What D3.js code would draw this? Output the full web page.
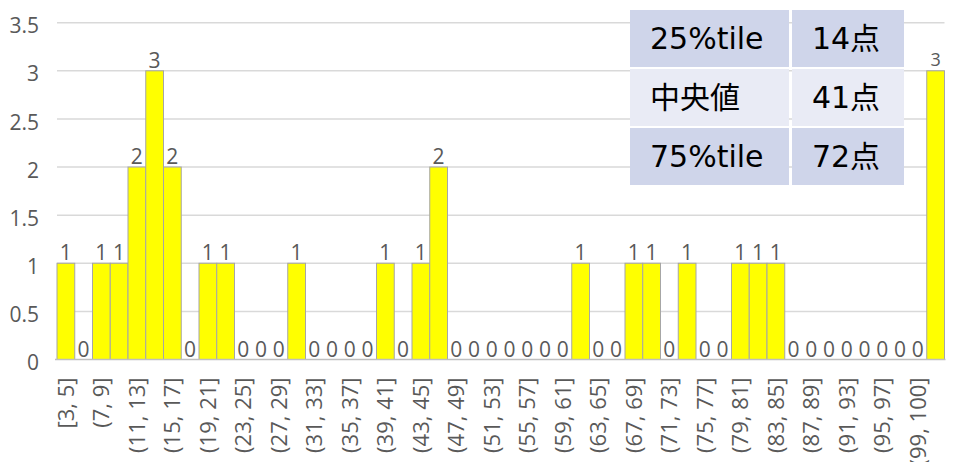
<!DOCTYPE html>
<html>
<head>
<meta charset="utf-8">
<script src="https://cdn.jsdelivr.net/npm/d3@7"></script>
<style>
  html, body { margin: 0; padding: 0; background: #fff; }
  svg { display: block; }
</style>
</head>
<body>
<svg id="chart" width="968" height="462"></svg>
<script>
// ---- data ----
const categories = [
  "[3, 5]", "(5, 7]", "(7, 9]", "(9, 11]", "(11, 13]", "(13, 15]", "(15, 17]", "(17, 19]",
  "(19, 21]", "(21, 23]", "(23, 25]", "(25, 27]", "(27, 29]", "(29, 31]", "(31, 33]", "(33, 35]",
  "(35, 37]", "(37, 39]", "(39, 41]", "(41, 43]", "(43, 45]", "(45, 47]", "(47, 49]", "(49, 51]",
  "(51, 53]", "(53, 55]", "(55, 57]", "(57, 59]", "(59, 61]", "(61, 63]", "(63, 65]", "(65, 67]",
  "(67, 69]", "(69, 71]", "(71, 73]", "(73, 75]", "(75, 77]", "(77, 79]", "(79, 81]", "(81, 83]",
  "(83, 85]", "(85, 87]", "(87, 89]", "(89, 91]", "(91, 93]", "(93, 95]", "(95, 97]", "(97, 99]",
  "(99, 100]", "> 100"
];
const counts = [
  1, 0, 1, 1, 2, 3, 2, 0,
  1, 1, 0, 0, 0, 1, 0, 0,
  0, 0, 1, 0, 1, 2, 0, 0,
  0, 0, 0, 0, 0, 1, 0, 0,
  1, 1, 0, 1, 0, 0, 1, 1,
  1, 0, 0, 0, 0, 0, 0, 0,
  0, 3
];
const yTicks = [0, 0.5, 1, 1.5, 2, 2.5, 3, 3.5];
const statLabels = ["25%tile", "中央値", "75%tile"];
const statValues = ["14点", "41点", "72点"];

// ---- layout ----
const svg = d3.select("#chart");
const plotLeft = 57, plotRight = 944.5, plotTop = 22.7, plotBottom = 359.5;
const font = "'Open Sans', 'Noto Sans CJK JP', sans-serif";
const textColor = "#595959";

const x = d3.scaleBand().domain(categories).range([plotLeft, plotRight]).paddingInner(0).paddingOuter(0);
const y = d3.scaleLinear().domain([0, 3.5]).range([plotBottom, plotTop]);

// gridlines
svg.append("g").selectAll("line").data(yTicks.filter(d => d > 0)).join("line")
  .attr("x1", plotLeft).attr("x2", plotRight)
  .attr("y1", d => y(d)).attr("y2", d => y(d))
  .attr("stroke", "#d9d9d9").attr("stroke-width", 1.5);

// y axis labels
const yAxis = d3.axisLeft(y).tickValues(yTicks).tickSize(0).tickPadding(0)
  .tickFormat(d => d3.format("")(d));
const gy = svg.append("g").attr("transform", `translate(39,0)`).call(yAxis);
gy.select(".domain").remove();
gy.selectAll("text")
  .attr("font-family", font).attr("font-size", 21).attr("fill", textColor)
  .attr("dy", "0.48em");

// bars
svg.append("g").selectAll("rect").data(counts).join("rect")
  .attr("x", (d, i) => x(categories[i]))
  .attr("width", x.bandwidth())
  .attr("y", d => y(d))
  .attr("height", d => y(0) - y(d))
  .attr("fill", "#ffff00")
  .attr("stroke", "#a6a6a6").attr("stroke-width", 1);

// baseline
svg.append("line")
  .attr("x1", 55).attr("x2", plotRight + 1)
  .attr("y1", y(0)).attr("y2", y(0))
  .attr("stroke", "#bfbfbf").attr("stroke-width", 1.5);

// data labels
svg.append("g").selectAll("text").data(counts).join("text")
  .attr("x", (d, i) => x(categories[i]) + x.bandwidth() / 2)
  .attr("y", (d, i) => y(d) - (i === counts.length - 1 ? 5 : 3))
  .attr("text-anchor", "middle")
  .attr("font-family", font)
  .attr("font-size", (d, i) => i === counts.length - 1 ? 18 : 21)
  .attr("fill", textColor)
  .text(d => d);

// x axis labels (every other category)
const xAxis = d3.axisBottom(x).tickSize(0).tickPadding(0)
  .tickValues(categories.filter((c, i) => i % 2 === 0));
const gx = svg.append("g").attr("transform", `translate(0,${plotBottom})`).call(xAxis);
gx.select(".domain").remove();
gx.selectAll("text")
  .attr("font-family", font).attr("font-size", 22).attr("fill", textColor)
  .attr("transform", "rotate(-90)")
  .attr("text-anchor", "end")
  .attr("x", -18).attr("y", 0).attr("dy", "0.36em");

// statistics table
const tblX = 630, col1W = 159, col2W = 112, gap = 3, rowH = 57, tblY = 10;
const rowFill = ["#CFD5EA", "#E9EBF5", "#CFD5EA"];
const tbl = svg.append("g");
const rows = tbl.selectAll("g").data(statLabels).join("g")
  .attr("transform", (d, i) => `translate(${tblX},${tblY + i * (rowH + 2)})`);
rows.append("rect").attr("x", 0).attr("y", 0).attr("width", col1W).attr("height", rowH)
  .attr("fill", (d, i) => rowFill[i]);
rows.append("rect").attr("x", col1W + gap).attr("y", 0).attr("width", col2W).attr("height", rowH)
  .attr("fill", (d, i) => rowFill[i]);
rows.append("text")
  .attr("x", 20).attr("y", rowH / 2).attr("dy", "0.36em")
  .attr("font-family", "'DejaVu Sans', 'Noto Sans CJK JP', sans-serif")
  .attr("font-size", 30).attr("fill", "#000")
  .text(d => d);
rows.append("text")
  .attr("x", col1W + gap + col2W / 2 - 2).attr("y", rowH / 2).attr("dy", "0.36em")
  .attr("text-anchor", "middle")
  .attr("font-family", "'DejaVu Sans', 'Noto Sans CJK JP', sans-serif")
  .attr("font-size", 30).attr("fill", "#000")
  .text((d, i) => statValues[i]);
</script>
</body>
</html>
